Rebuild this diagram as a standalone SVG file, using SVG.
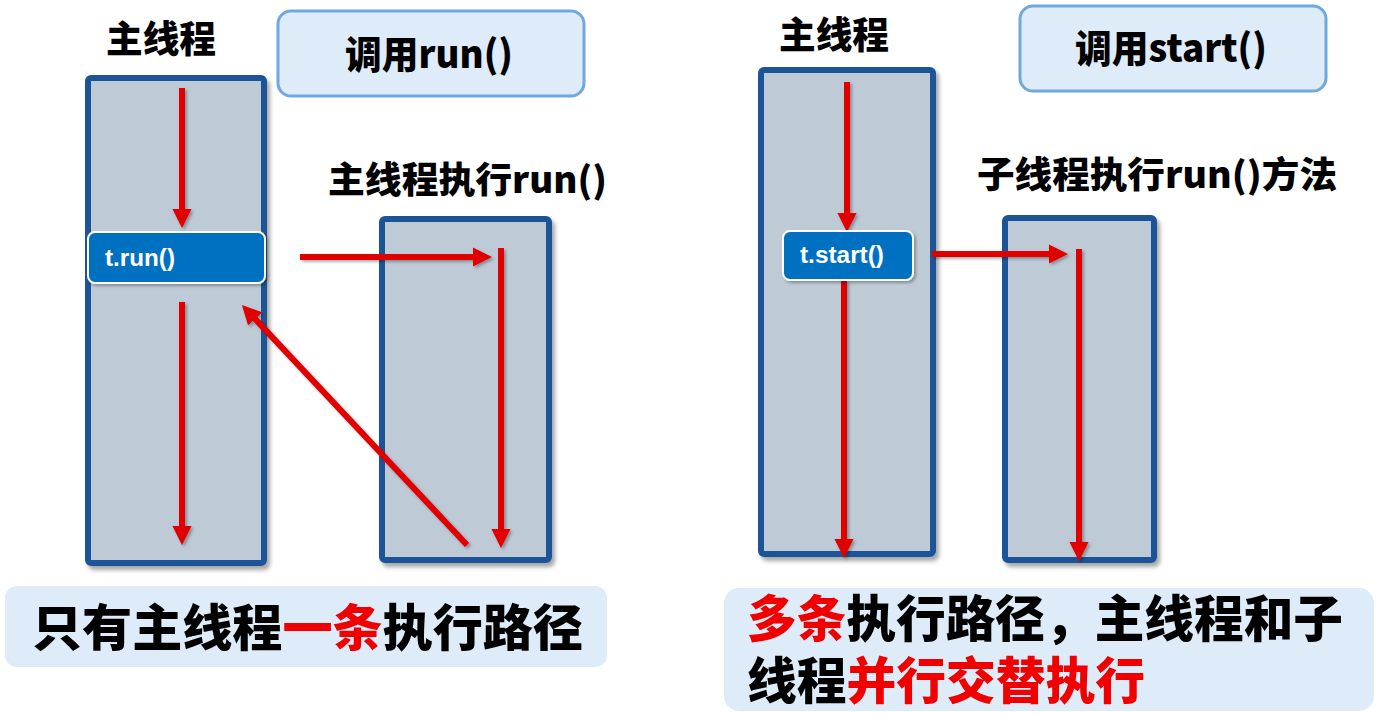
<svg xmlns="http://www.w3.org/2000/svg" width="1376" height="713" viewBox="0 0 1376 713">
<defs>
<style>
.thread{fill:#BECAD6;stroke:#1F5597;stroke-width:6}
.call{fill:#0070C0;stroke:#FFFFFF;stroke-width:2}
.note{fill:#DEEBF8;stroke:#6FA8E0;stroke-width:3}
.sum{fill:#DEEBF8}
.h{font-family:"Noto Sans CJK SC","Liberation Sans",sans-serif;font-weight:900;fill:#000}
.c{font-family:"Liberation Sans","Noto Sans CJK SC",sans-serif;font-weight:700;fill:#FFF;font-size:23px}
.red{fill:#F00000}
.arr{stroke:#E00000;stroke-width:6;fill:none;marker-end:url(#head)}
</style>
<marker id="head" viewBox="0 0 10 10" refX="5" refY="5" markerWidth="3.2" markerHeight="3.2" orient="auto" markerUnits="strokeWidth">
<path d="M0,0 L10,5 L0,10 z" fill="#E00000"/>
</marker>
<filter id="sh" x="-10%" y="-10%" width="130%" height="130%">
<feDropShadow dx="3" dy="4" stdDeviation="2" flood-color="#000" flood-opacity="0.35"/>
</filter>
<filter id="sh2" x="-10%" y="-10%" width="130%" height="130%">
<feDropShadow dx="2" dy="2" stdDeviation="1.5" flood-color="#000" flood-opacity="0.3"/>
</filter>
</defs>
<rect width="1376" height="713" fill="#FFFFFF"/>

<g id="left-main-thread">
<rect class="thread" x="88" y="78" width="176" height="485" rx="3" filter="url(#sh)"/>
<text class="h" x="106" y="53" font-size="37" textLength="110" lengthAdjust="spacingAndGlyphs">主线程</text>
</g>
<g id="left-call-note">
<rect class="note" x="278" y="11" width="306" height="85" rx="13"/>
<text class="h" x="345" y="68" font-size="38" textLength="168" lengthAdjust="spacingAndGlyphs">调用run()</text>
</g>
<g id="left-sub-thread">
<rect class="thread" x="382" y="219" width="167" height="341" rx="3" filter="url(#sh)"/>
<text class="h" x="328" y="193" font-size="36" textLength="279" lengthAdjust="spacingAndGlyphs">主线程执行run()</text>
</g>

<g id="right-main-thread">
<rect class="thread" x="761" y="70" width="172" height="484" rx="3" filter="url(#sh)"/>
<text class="h" x="779" y="49" font-size="37" textLength="110" lengthAdjust="spacingAndGlyphs">主线程</text>
</g>
<g id="right-call-note">
<rect class="note" x="1020" y="6" width="306" height="85" rx="13"/>
<text class="h" x="1075" y="62" font-size="38" textLength="192" lengthAdjust="spacingAndGlyphs">调用start()</text>
</g>
<g id="right-sub-thread">
<rect class="thread" x="1005" y="218" width="149" height="342" rx="3" filter="url(#sh)"/>
<text class="h" x="977" y="188" font-size="36" textLength="360" lengthAdjust="spacingAndGlyphs">子线程执行run()方法</text>
</g>

<g id="connectors" filter="url(#sh2)">
<line class="arr" x1="182" y1="88" x2="182" y2="218.5"/>
<line class="arr" x1="182" y1="302" x2="182" y2="535.5"/>
<line class="arr" x1="300" y1="257" x2="482.5" y2="257"/>
<line class="arr" x1="501" y1="248" x2="501" y2="538.5"/>
<line class="arr" x1="467" y1="545" x2="248.5" y2="311.9"/>
<line class="arr" x1="847" y1="82" x2="847" y2="222.5"/>
<line class="arr" x1="844" y1="280" x2="844" y2="548.5"/>
<line class="arr" x1="932" y1="254" x2="1058.5" y2="254"/>
<line class="arr" x1="1079" y1="249" x2="1079" y2="551.5"/>
</g>

<g id="t-run">
<rect class="call" x="88" y="232" width="177" height="51" rx="7" filter="url(#sh2)"/>
<text class="c" x="105" y="266" textLength="70" lengthAdjust="spacingAndGlyphs">t.run()</text>
</g>
<g id="t-start">
<rect class="call" x="783" y="231" width="130" height="49" rx="7" filter="url(#sh2)"/>
<text class="c" x="800" y="263" textLength="84" lengthAdjust="spacingAndGlyphs">t.start()</text>
</g>

<g id="summary-left">
<rect class="sum" x="5" y="586" width="602" height="81" rx="12"/>
<text class="h" x="32" y="646" font-size="50" textLength="551" lengthAdjust="spacingAndGlyphs">只有主线程<tspan class="red">一条</tspan>执行路径</text>
</g>
<g id="summary-right">
<rect class="sum" x="724" y="588" width="650" height="123" rx="15"/>
<text class="h" x="747" y="637" font-size="50" textLength="596" lengthAdjust="spacingAndGlyphs"><tspan class="red">多条</tspan>执行路径，主线程和子</text>
<text class="h" x="747" y="699" font-size="50" textLength="398" lengthAdjust="spacingAndGlyphs">线程<tspan class="red">并行交替执行</tspan></text>
</g>
</svg>
